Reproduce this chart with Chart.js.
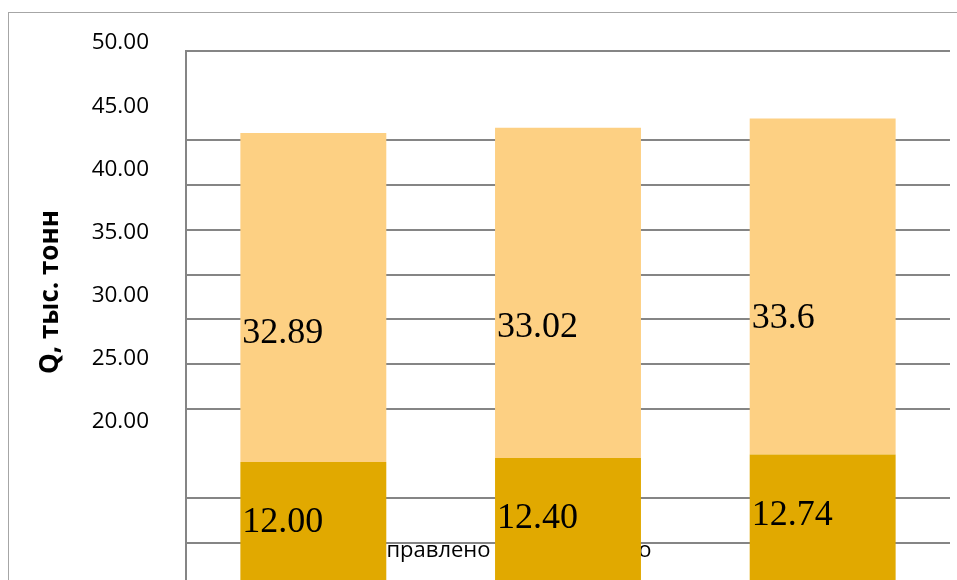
<!DOCTYPE html>
<html lang="ru">
<head>
<meta charset="utf-8">
<title>Q, тыс. тонн</title>
<script src="https://cdn.jsdelivr.net/npm/chart.js@4.4.1/dist/chart.umd.min.js"></script>
<style>
  html, body { margin: 0; padding: 0; background: #fff; }
  #stage { position: relative; width: 957px; height: 580px; overflow: hidden; }
  /* light frame round the whole chart, runs off the right and bottom edges */
  #frame { position: absolute; left: 8px; top: 12px; width: 960px; height: 600px;
           border-left: 1px solid #a6a6a6; border-top: 1px solid #a6a6a6; }
  #chart { position: absolute; left: 0; top: 0; }
</style>
</head>
<body>
<div id="stage">
  <div id="frame"></div>
  <canvas id="chart" width="957" height="620"></canvas>
</div>
<script>
// stacked columns: base amount + added amount, thousand tonnes
const categories = ['Вариант 1', 'Вариант 2', 'Вариант 3'];
const baseValues = [12.00, 12.40, 12.74];
const addedValues = [32.89, 33.02, 33.6];

// left axis labels and the grid steps that are left out
const yTickValues = [50, 45, 40, 35, 30, 25, 20];
const hiddenGridSteps = [11, 3];

const yCaption = 'Q, тыс. тонн';
const xCaption = 'Направлено на склад всего';

const GRID = '#858585';
const SANS = '"Open Sans", "Noto Sans", sans-serif';

// value text inside each column, left aligned, dropped below the segment top
const barLabels = {
  id: 'barLabels',
  afterDatasetsDraw(chart, args, opts) {
    const ctx = chart.ctx;
    ctx.save();
    ctx.font = '36px "Liberation Serif", "Times New Roman", serif';
    ctx.fillStyle = '#000';
    ctx.textAlign = 'left';
    ctx.textBaseline = 'middle';
    chart.data.datasets.forEach((ds, i) => {
      const meta = chart.getDatasetMeta(i);
      meta.data.forEach((bar, j) => {
        const text = opts.format[i](ds.data[j]);
        ctx.fillText(text, bar.x - bar.width / 2 + 2, bar.y + opts.drop[i]);
      });
    });
    ctx.restore();
  }
};

// axis captions: the category caption sits behind the columns
const captions = {
  id: 'captions',
  beforeDatasetsDraw(chart) {
    const { ctx, chartArea } = chart;
    ctx.save();
    ctx.font = '22px ' + SANS;
    ctx.fillStyle = '#000';
    ctx.textAlign = 'left';
    ctx.textBaseline = 'alphabetic';
    ctx.fillText(xCaption, chartArea.left + 172, 557);
    ctx.restore();
  },
  afterDraw(chart) {
    const ctx = chart.ctx;
    ctx.save();
    ctx.translate(51, 292);
    ctx.rotate(-Math.PI / 2);
    ctx.font = 'bold 26px ' + SANS;
    ctx.fillStyle = '#000';
    ctx.textAlign = 'center';
    ctx.textBaseline = 'middle';
    ctx.fillText(yCaption, 0, 0);
    ctx.restore();
  }
};

// keep the plot area fixed: no extra room for the first/last tick label
const fixedBox = width => s => {
  s.width = width;
  s.paddingTop = 0;
  s.paddingBottom = 0;
};

new Chart(document.getElementById('chart'), {
  type: 'bar',
  data: {
    labels: categories,
    datasets: [
      { label: 'base', data: baseValues, backgroundColor: '#E1A900', borderWidth: 0 },
      { label: 'added', data: addedValues, backgroundColor: '#FDD083', borderWidth: 0 },
    ],
  },
  options: {
    responsive: false,
    animation: false,
    devicePixelRatio: 1,
    barPercentage: 0.573,
    categoryPercentage: 1,
    layout: { padding: { top: 51, right: 7, left: 0, bottom: 0 } },
    plugins: {
      legend: { display: false },
      tooltip: { enabled: false },
      barLabels: {
        drop: [61, 200],
        format: [v => v.toFixed(2), v => String(v)],
      },
    },
    scales: {
      x: { type: 'category', display: false, stacked: true },
      y: { display: false, stacked: true, min: -3.8, max: 53.1 },
      yGrid: {
        position: 'left',
        weight: 0,
        min: -0.72,
        max: 12,
        ticks: { display: false, stepSize: 1, includeBounds: false },
        grid: {
          color: c => hiddenGridSteps.includes(c.tick.value) ? 'rgba(0,0,0,0)' : GRID,
          lineWidth: 2,
          drawTicks: false,
        },
        border: { display: true, color: GRID, width: 2 },
        afterFit: fixedBox(0),
      },
      yLabels: {
        position: 'left',
        weight: 1,
        min: 4.95,
        max: 50,
        grid: { display: false },
        border: { display: false },
        ticks: {
          color: '#000',
          font: { family: SANS, size: 22.5 },
          padding: 29,
          labelOffset: -8,
          callback: v => v.toFixed(2),
        },
        afterBuildTicks: s => { s.ticks = yTickValues.map(v => ({ value: v })); },
        afterFit: fixedBox(186),
      },
    },
  },
  plugins: [captions, barLabels],
});
</script>
</body>
</html>
